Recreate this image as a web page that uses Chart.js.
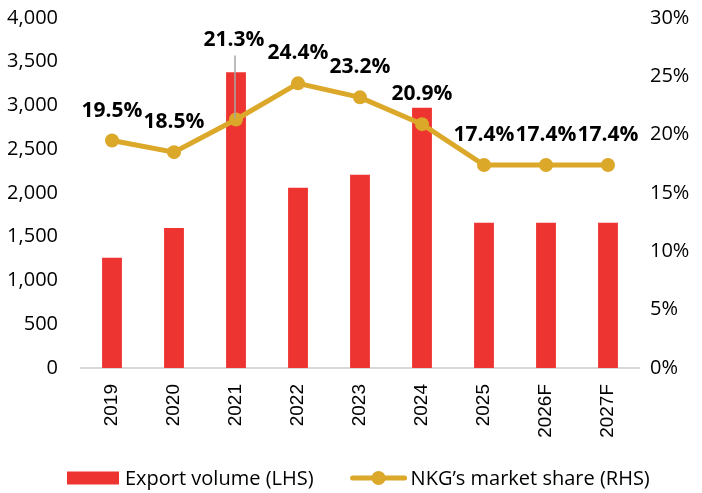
<!DOCTYPE html>
<html>
<head>
<meta charset="utf-8">
<script src="https://cdn.jsdelivr.net/npm/chart.js@4/dist/chart.umd.min.js"></script>
<style>
  html,body{margin:0;padding:0;background:#fff;}
  #wrap{width:702px;height:493px;position:relative;}
</style>
</head>
<body>
<div id="wrap"><canvas id="c" width="702" height="493"></canvas></div>
<script>
const categories = ['2019','2020','2021','2022','2023','2024','2025','2026F','2027F'];
const exportVolume = [1260, 1600, 3380, 2060, 2210, 2975, 1660, 1660, 1660];
const marketShare = [19.5, 18.5, 21.3, 24.4, 23.2, 20.9, 17.4, 17.4, 17.4];
const leftTicks = [0, 500, 1000, 1500, 2000, 2500, 3000, 3500, 4000];
const rightTicks = [0, 5, 10, 15, 20, 25, 30];
const seriesNames = ['Export volume (LHS)', 'NKG\u2019s market share (RHS)'];

const RED = '#EE3431';
const GOLD = '#DBA829';
const FONT = "'Open Sans', sans-serif";

const labelPlugin = {
  id: 'shareLabels',
  afterDatasetsDraw(chart){
    const meta = chart.getDatasetMeta(1);
    const ctx = chart.ctx;
    ctx.save();
    ctx.font = "bold 21px " + FONT;
    ctx.fillStyle = '#000';
    ctx.textAlign = 'center';
    ctx.textBaseline = 'alphabetic';
    meta.data.forEach((pt, i) => {
      let lift = 24;
      let dx = 0;
      if (i === 2) {
        lift = 74; dx = -2;
        ctx.save();
        ctx.strokeStyle = '#A6A6A6';
        ctx.lineWidth = 1.5;
        ctx.beginPath();
        ctx.moveTo(pt.x - 1, pt.y - lift + 10);
        ctx.lineTo(pt.x - 1, pt.y - 1);
        ctx.stroke();
        ctx.restore();
      }
      ctx.fillText(marketShare[i].toFixed(1) + '%', pt.x + dx, pt.y - lift);
    });
    ctx.restore();
  }
};

// Legend drawn below the x axis (bar swatch + line-with-marker swatch)
const legendPlugin = {
  id: 'customLegend',
  afterDraw(chart){
    const ctx = chart.ctx;
    const cy = 478;
    ctx.save();
    ctx.font = "20px " + FONT;
    ctx.fillStyle = '#000';
    ctx.textAlign = 'left';
    ctx.textBaseline = 'middle';
    // item 1
    ctx.fillStyle = RED;
    ctx.fillRect(67, cy - 6.5, 52, 13);
    ctx.fillStyle = '#000';
    const w1 = ctx.measureText(seriesNames[0]).width;
    ctx.fillText(seriesNames[0], 125, cy + 1);
    // item 2
    const x2 = 125 + w1 + 37;
    ctx.strokeStyle = GOLD;
    ctx.lineWidth = 5;
    ctx.lineCap = 'round';
    ctx.beginPath();
    ctx.moveTo(x2 + 2, cy); ctx.lineTo(x2 + 54, cy); ctx.stroke();
    ctx.fillStyle = GOLD;
    ctx.beginPath(); ctx.arc(x2 + 28, cy, 7, 0, Math.PI * 2); ctx.fill();
    ctx.fillStyle = '#000';
    ctx.fillText(seriesNames[1], x2 + 60, cy + 1);
    ctx.restore();
  }
};

new Chart(document.getElementById('c'), {
  data: {
    labels: categories,
    datasets: [
      {
        type: 'bar',
        label: seriesNames[0],
        data: exportVolume,
        backgroundColor: RED,
        yAxisID: 'y',
        order: 2,
        barPercentage: 0.64,
        categoryPercentage: 0.5
      },
      {
        type: 'line',
        label: seriesNames[1],
        data: marketShare,
        borderColor: GOLD,
        backgroundColor: GOLD,
        borderWidth: 5,
        pointRadius: 7,
        pointHoverRadius: 7,
        pointBackgroundColor: GOLD,
        pointBorderWidth: 0,
        yAxisID: 'y1',
        order: 1,
        tension: 0
      }
    ]
  },
  options: {
    responsive: false,
    animation: false,
    devicePixelRatio: 1,
    layout: { padding: { top: 18, bottom: 55, left: 0, right: 0 } },
    plugins: {
      tooltip: { enabled: false },
      legend: { display: false }
    },
    scales: {
      x: {
        grid: { display: false, drawTicks: false },
        border: { display: true, color: '#D9D9D9', width: 2 },
        ticks: {
          color: '#000',
          font: { family: "'Liberation Sans', Arial, sans-serif", size: 19 },
          minRotation: 90, maxRotation: 90,
          padding: 16,
          autoSkip: false
        },
        afterFit(s){ s.height = 70; s.paddingLeft = 0; s.paddingRight = 0; }
      },
      y: {
        position: 'left',
        min: 0, max: 4000,
        afterBuildTicks(s){ s.ticks = leftTicks.map(v => ({ value: v })); },
        grid: { display: false, drawTicks: false },
        border: { display: false },
        ticks: {
          color: '#000',
          font: { family: FONT, size: 20 },
          padding: 23,
          callback: v => v.toLocaleString('en-US')
        },
        afterFit(s){ s.width = 81; s.paddingTop = 0; s.paddingBottom = 0; }
      },
      y1: {
        position: 'right',
        min: 0, max: 30,
        afterBuildTicks(s){ s.ticks = rightTicks.map(v => ({ value: v })); },
        grid: { display: false, drawTicks: false },
        border: { display: false },
        ticks: {
          color: '#000',
          font: { family: FONT, size: 20 },
          padding: 11,
          callback: v => v + '%'
        },
        afterFit(s){ s.width = 63; s.paddingTop = 0; s.paddingBottom = 0; }
      }
    }
  },
  plugins: [labelPlugin, legendPlugin]
});
</script>
</body>
</html>
